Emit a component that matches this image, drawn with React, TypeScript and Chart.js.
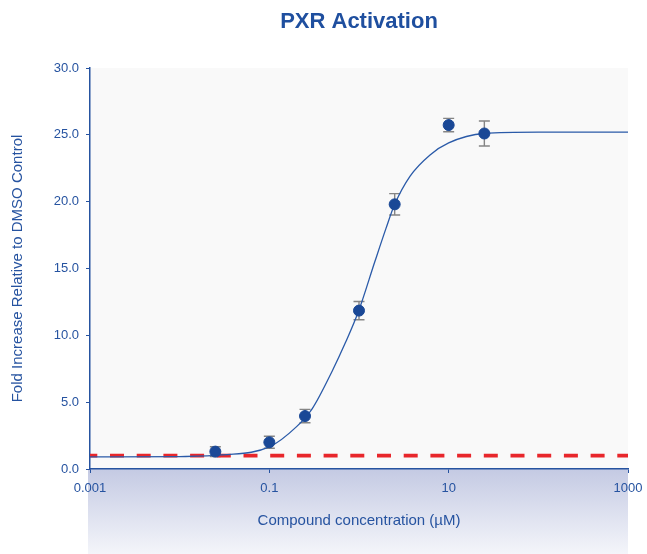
import React, { useEffect, useRef } from "react";
import { Chart, registerables } from "chart.js";

Chart.register(...registerables);

// Measured data (concentration in µM, fold increase)
const concentrations = [0.025, 0.1, 0.25, 1, 2.5, 10, 25];
const foldValues = [1.3, 2.0, 3.96, 11.85, 19.8, 25.73, 25.1];
const foldErrors = [0.37, 0.45, 0.5, 0.68, 0.8, 0.5, 0.93];

// Fitted curve
const curveX = [0.001, 0.01, 0.03, 0.1, 0.2, 0.3, 0.5, 0.7, 1, 1.5, 2, 2.5, 3.7, 6.2, 10, 25, 100, 1000];
const curveY = [0.9, 0.93, 1.05, 1.65, 3.15, 4.5, 7.3, 9.4, 11.9, 15.5, 18.0, 19.8, 21.9, 23.5, 24.4, 25.1, 25.2, 25.2];

// DMSO control baseline
const baselineX = [0.001, 1000];
const baselineY = [1.0, 1.0];

const xTickValues = [0.001, 0.1, 10, 1000];
const xTickLabels = ["0.001", "0.1", "10", "1000"];

const FONT = "'Liberation Sans', Arial, Helvetica, sans-serif";
const BLUE = "#2653a0";

const bgPlugin = {
  id: "bgPlugin",
  beforeDraw(chart: any) {
    const { ctx, chartArea } = chart;
    const { left, right, top, bottom } = chartArea;
    ctx.save();
    ctx.fillStyle = "#ffffff";
    ctx.fillRect(0, 0, chart.width, chart.height);
    ctx.fillStyle = "#f9f9f9";
    ctx.fillRect(left, top, right - left, bottom - top);
    const g = ctx.createLinearGradient(0, bottom, 0, chart.height);
    g.addColorStop(0, "#c4cae3");
    g.addColorStop(1, "#f4f5fa");
    ctx.fillStyle = g;
    ctx.fillRect(left - 2, bottom, right - left + 2, chart.height - bottom);
    ctx.restore();
  },
};

const errorBarPlugin = {
  id: "errorBars",
  beforeDatasetsDraw(chart: any) {
    const { ctx } = chart;
    const xs = chart.scales.x;
    const ys = chart.scales.y;
    ctx.save();
    ctx.strokeStyle = "#858585";
    ctx.lineWidth = 1.4;
    concentrations.forEach((c, i) => {
      const px = xs.getPixelForValue(c);
      const yt = ys.getPixelForValue(foldValues[i] + foldErrors[i]);
      const yb = ys.getPixelForValue(foldValues[i] - foldErrors[i]);
      ctx.beginPath();
      ctx.moveTo(px, yt);
      ctx.lineTo(px, yb);
      ctx.moveTo(px - 5.5, yt);
      ctx.lineTo(px + 5.5, yt);
      ctx.moveTo(px - 5.5, yb);
      ctx.lineTo(px + 5.5, yb);
      ctx.stroke();
    });
    ctx.restore();
  },
};

export default function App() {
  const ref = useRef<HTMLCanvasElement | null>(null);

  useEffect(() => {
    if (!ref.current) return;
    const chart = new Chart(ref.current, {
      type: "scatter",
      data: {
        datasets: [
          {
            label: "Measured",
            data: concentrations.map((x, i) => ({ x, y: foldValues[i] })),
            backgroundColor: "#1a4896",
            borderColor: "#1a4896",
            pointRadius: 5.5,
            pointHoverRadius: 5.5,
            showLine: false,
          },
          {
            label: "Fit",
            type: "line",
            data: curveX.map((x, i) => ({ x, y: curveY[i] })),
            borderColor: "#2a5aa8",
            borderWidth: 1.3,
            pointRadius: 0,
            fill: false,
            cubicInterpolationMode: "monotone",
          } as any,
          {
            label: "DMSO",
            type: "line",
            data: baselineX.map((x, i) => ({ x, y: baselineY[i] })),
            borderColor: "#e8262b",
            borderWidth: 3.6,
            borderDash: [14, 12.7],
            borderDashOffset: 6.7,
            pointRadius: 0,
            fill: false,
          } as any,
        ],
      },
      options: {
        responsive: false,
        animation: false,
        devicePixelRatio: 1,
        layout: { padding: { left: 0, right: 19, top: 0, bottom: 0 } },
        plugins: {
          legend: { display: false },
          tooltip: { enabled: false },
          title: {
            display: true,
            text: "PXR Activation",
            color: "#1f4f9f",
            fullSize: false,
            font: { family: FONT, size: 22, weight: "bold", lineHeight: 1.2 },
            padding: { top: 9, bottom: 32.6 },
          },
        },
        scales: {
          x: {
            type: "logarithmic",
            min: 0.001,
            max: 1000,
            afterFit(scale: any) {
              scale.height = 85;
              scale.paddingLeft = 0;
              scale.paddingRight = 0;
            },
            afterBuildTicks(scale: any) {
              scale.ticks = xTickValues.map((v) => ({ value: v }));
            },
            ticks: {
              autoSkip: false,
              maxRotation: 0,
              color: BLUE,
              padding: 8,
              font: { family: FONT, size: 13 },
              callback: (v: any) => {
                const idx = xTickValues.indexOf(Number(v));
                return idx >= 0 ? xTickLabels[idx] : "";
              },
            },
            grid: {
              drawOnChartArea: false,
              drawTicks: true,
              tickLength: 4,
              color: BLUE,
            },
            border: { display: true, color: BLUE, width: 1.5 },
            title: {
              display: true,
              text: "Compound concentration (µM)",
              color: BLUE,
              font: { family: FONT, size: 15, lineHeight: 1.2 },
              padding: { top: 0, bottom: 24 },
            },
          },
          y: {
            min: 0,
            max: 30,
            afterFit(scale: any) {
              scale.width = 90;
            },
            ticks: {
              stepSize: 5,
              color: BLUE,
              padding: 7,
              font: { family: FONT, size: 13 },
              callback: (v: any) => Number(v).toFixed(1),
            },
            grid: {
              drawOnChartArea: false,
              drawTicks: true,
              tickLength: 4,
              color: BLUE,
            },
            border: { display: true, color: BLUE, width: 1.5 },
            title: {
              display: true,
              text: "Fold Increase Relative to DMSO Control",
              color: BLUE,
              font: { family: FONT, size: 15, lineHeight: 1.2 },
              padding: { top: 9, bottom: 0 },
            },
          },
        },
      } as any,
      plugins: [bgPlugin, errorBarPlugin],
    });
    return () => chart.destroy();
  }, []);

  return (
    <div style={{ position: "absolute", left: 0, top: 0, width: 647, height: 554 }}>
      <canvas ref={ref} width={647} height={554} />
    </div>
  );
}
